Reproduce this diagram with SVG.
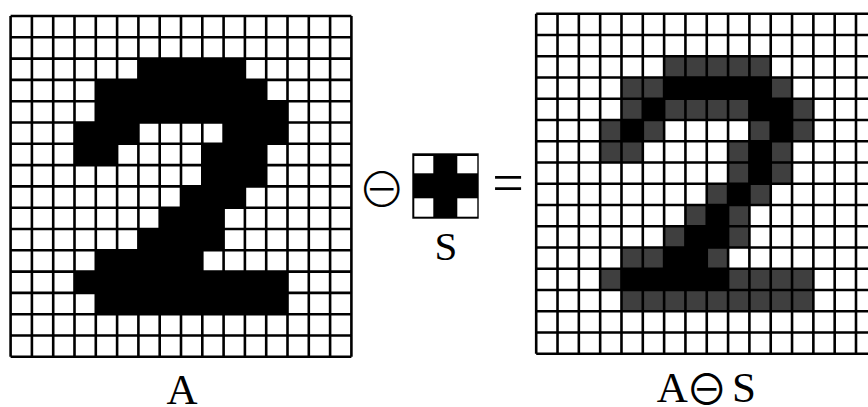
<svg xmlns="http://www.w3.org/2000/svg" xmlns:xlink="http://www.w3.org/1999/xlink" width="868" height="407" viewBox="0 0 868 407">
<style>
.lines{fill:none;stroke:#000;stroke-width:2.6;vector-effect:non-scaling-stroke}
.blk{fill:#000}
.gry{fill:#3f3f3f}
.lbl{font-family:"Liberation Serif","DejaVu Serif",serif;fill:#000}
.sym{font-family:"Noto Sans CJK JP","DejaVu Sans",sans-serif;fill:#000}
</style>
<defs>
<path id="gridlines" class="lines" d="M0 0V16M1 0V16M2 0V16M3 0V16M4 0V16M5 0V16M6 0V16M7 0V16M8 0V16M9 0V16M10 0V16M11 0V16M12 0V16M13 0V16M14 0V16M15 0V16M16 0V16M0 0H16M0 1H16M0 2H16M0 3H16M0 4H16M0 5H16M0 6H16M0 7H16M0 8H16M0 9H16M0 10H16M0 11H16M0 12H16M0 13H16M0 14H16M0 15H16M0 16H16"/>
<g id="shapeA">
<rect x="6" y="2" width="5" height="1"/>
<rect x="4" y="3" width="8" height="1"/>
<rect x="4" y="4" width="9" height="1"/>
<rect x="3" y="5" width="3" height="1"/><rect x="10" y="5" width="3" height="1"/>
<rect x="3" y="6" width="2" height="1"/><rect x="9" y="6" width="3" height="1"/>
<rect x="9" y="7" width="3" height="1"/>
<rect x="8" y="8" width="3" height="1"/>
<rect x="7" y="9" width="3" height="1"/>
<rect x="6" y="10" width="4" height="1"/>
<rect x="4" y="11" width="5" height="1"/>
<rect x="3" y="12" width="10" height="1"/>
<rect x="4" y="13" width="9" height="1"/>
</g>
</defs>
<rect width="868" height="407" fill="#fff"/>

<g id="grid-A">
<g transform="translate(10.6,16) scale(21.3,21.3)">
<rect width="16" height="16" fill="#fff"/>
<use xlink:href="#shapeA" class="blk"/>
<use xlink:href="#gridlines"/>
</g>
<text class="lbl" x="182" y="404" font-size="43" text-anchor="middle">A</text>
</g>

<g id="op-erode">
<text class="sym" x="381.7" y="207.4" font-size="48" font-weight="300" text-anchor="middle">⊖</text>
</g>

<g id="se-S">
<rect x="412.3" y="153.3" width="66.4" height="65.4" fill="#000"/>
<rect x="414.3" y="156" width="19" height="17.3" fill="#fff"/>
<rect x="457.3" y="156" width="20" height="17.3" fill="#fff"/>
<rect x="414.3" y="198.3" width="19" height="18.4" fill="#fff"/>
<rect x="457.3" y="198.3" width="20" height="18.4" fill="#fff"/>
<text class="lbl" x="446" y="259.5" font-size="41" text-anchor="middle">S</text>
</g>

<g id="op-equals">
<text class="lbl" x="508" y="201.5" font-size="56" text-anchor="middle">=</text>
</g>

<g id="grid-result">
<g transform="translate(536.2,13.8) scale(21.32,21.25)">
<rect width="16" height="16" fill="#fff"/>
<use xlink:href="#shapeA" class="gry"/>
<g class="blk">
<rect x="6" y="3" width="5" height="1"/>
<rect x="5" y="4" width="1" height="1"/><rect x="10" y="4" width="2" height="1"/>
<rect x="4" y="5" width="1" height="1"/><rect x="11" y="5" width="1" height="1"/>
<rect x="10" y="6" width="1" height="2"/>
<rect x="9" y="8" width="1" height="1"/>
<rect x="8" y="9" width="1" height="1"/>
<rect x="7" y="10" width="2" height="1"/>
<rect x="6" y="11" width="2" height="1"/>
<rect x="4" y="12" width="5" height="1"/>
</g>
<use xlink:href="#gridlines"/>
</g>
<text class="lbl" y="401.5" font-size="43" text-anchor="middle"><tspan x="672.3">A</tspan><tspan class="sym" x="706.7" y="405" font-size="42">⊖</tspan><tspan x="744" y="401.5">S</tspan></text>
</g>
</svg>
